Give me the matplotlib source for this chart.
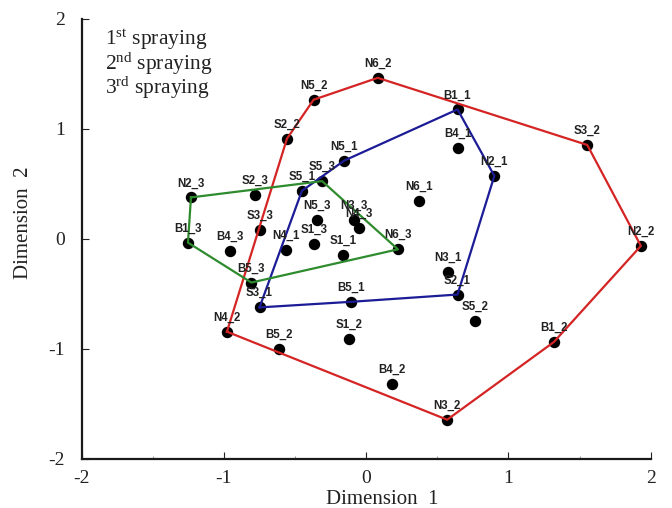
import matplotlib
matplotlib.use("Agg")
import matplotlib.pyplot as plt
from matplotlib.ticker import MultipleLocator

plt.rcParams['mathtext.fontset'] = 'custom'
plt.rcParams['mathtext.rm'] = 'Liberation Serif'
plt.rcParams['mathtext.it'] = 'Liberation Serif:italic'

# ---- data: 1st spraying ----
labels1 = ['B1_1', 'B4_1', 'N2_1', 'N6_1', 'N5_1', 'S5_1', 'N4_1', 'S1_1', 'N3_1', 'S2_1', 'B5_1', 'S3_1']
x1 = [0.642, 0.645, 0.901, 0.373, -0.154, -0.452, -0.563, -0.160, 0.575, 0.642, -0.105, -0.750]
y1 = [1.178, 0.828, 0.574, 0.344, 0.713, 0.438, -0.100, -0.145, -0.302, -0.505, -0.571, -0.622]
hull1 = ['S3_1', 'S5_1', 'N5_1', 'B1_1', 'N2_1', 'S2_1', 'B5_1']

# ---- data: 2nd spraying ----
labels2 = ['N6_2', 'N5_2', 'S2_2', 'N4_2', 'B5_2', 'S1_2', 'B4_2', 'N3_2', 'B1_2', 'N2_2', 'S3_2', 'S5_2']
x2 = [0.081, -0.370, -0.557, -0.979, -0.611, -0.123, 0.184, 0.569, 1.319, 1.931, 1.554, 0.765]
y2 = [1.465, 1.266, 0.912, -0.843, -0.997, -0.912, -1.317, -1.643, -0.937, -0.063, 0.855, -0.749]
hull2 = ['N4_2', 'S2_2', 'N5_2', 'N6_2', 'S3_2', 'N2_2', 'B1_2', 'N3_2']

# ---- data: 3rd spraying ----
labels3 = ['N2_3', 'S2_3', 'S5_3', 'N5_3', 'N3_3', 'N4_3', 'S3_3', 'B1_3', 'B4_3', 'S1_3', 'N6_3', 'B5_3']
x3 = [-1.232, -0.780, -0.310, -0.343, -0.087, -0.051, -0.747, -1.253, -0.958, -0.364, 0.223, -0.807]
y3 = [0.378, 0.399, 0.526, 0.172, 0.172, 0.097, 0.082, -0.033, -0.106, -0.042, -0.094, -0.396]
hull3 = ['N2_3', 'S5_3', 'N6_3', 'B5_3', 'B1_3']

legend_texts = [r'1$^{\mathrm{st}}$ spraying', r'2$^{\mathrm{nd}}$ spraying', r'3$^{\mathrm{rd}}$ spraying']
tick_vals = [-2, -1, 0, 1, 2]

groups = [
    (labels1, x1, y1, hull1, '#1c1c96'),
    (labels2, x2, y2, hull2, '#d42424'),
    (labels3, x3, y3, hull3, '#2e8b2e'),
]

fig = plt.figure(figsize=(6.72, 5.08), dpi=100)
ax = fig.add_axes([0.1216, 0.0965, 0.8467, 0.8661])

for labs, xs, ys, hull, col in groups:
    ax.plot(xs, ys, 'o', color='black', markersize=7.2, zorder=2, linestyle='none')
    idx = {l: i for i, l in enumerate(labs)}
    hx = [xs[idx[h]] for h in hull] + [xs[idx[hull[0]]]]
    hy = [ys[idx[h]] for h in hull] + [ys[idx[hull[0]]]]
    ax.plot(hx, hy, color=col, linewidth=1.6, zorder=3)
    for l, xv, yv in zip(labs, xs, ys):
        ax.annotate(l, (xv, yv), xytext=(0, 8.0), textcoords='offset points',
                    ha='center', va='baseline', fontsize=8.3, fontweight='bold',
                    family='Liberation Sans', color='#222222', zorder=4)

for i, t in enumerate(legend_texts):
    ax.text(0.041, 0.941 - i * 0.056, t, transform=ax.transAxes, ha='left', va='baseline',
            fontsize=15.5, family='Liberation Serif', color='#222222')

ax.set_xlim(-2, 2)
ax.set_ylim(-2, 2)
ax.set_xticks(tick_vals)
ax.set_yticks(tick_vals)
ax.set_xticklabels([str(v) for v in tick_vals])
ax.set_yticklabels([str(v) for v in tick_vals])
ax.xaxis.set_minor_locator(MultipleLocator(0.5))
ax.tick_params(axis='both', which='major', direction='in', length=5, width=0.8,
               labelsize=14, colors='#222222')
ax.tick_params(axis='x', which='major', pad=8)
ax.tick_params(axis='y', which='major', pad=12)
ax.tick_params(axis='x', which='minor', direction='in', length=2.5, width=0.6, color='#888888')
for lab in ax.get_xticklabels() + ax.get_yticklabels():
    lab.set_family('Liberation Serif')

for s in ['top', 'right']:
    ax.spines[s].set_visible(False)
for s in ['left', 'bottom']:
    ax.spines[s].set_linewidth(1.6)
    ax.spines[s].set_color('#1a1a1a')

ax.set_xlabel('Dimension  1', fontsize=15, family='Liberation Serif', color='#222222')
ax.set_ylabel('Dimension  2', fontsize=15, family='Liberation Serif', color='#222222')
ax.xaxis.set_label_coords(0.528, -0.070)
ax.yaxis.set_label_coords(-0.086, 0.536)

fig.savefig('out.png', dpi=100)
